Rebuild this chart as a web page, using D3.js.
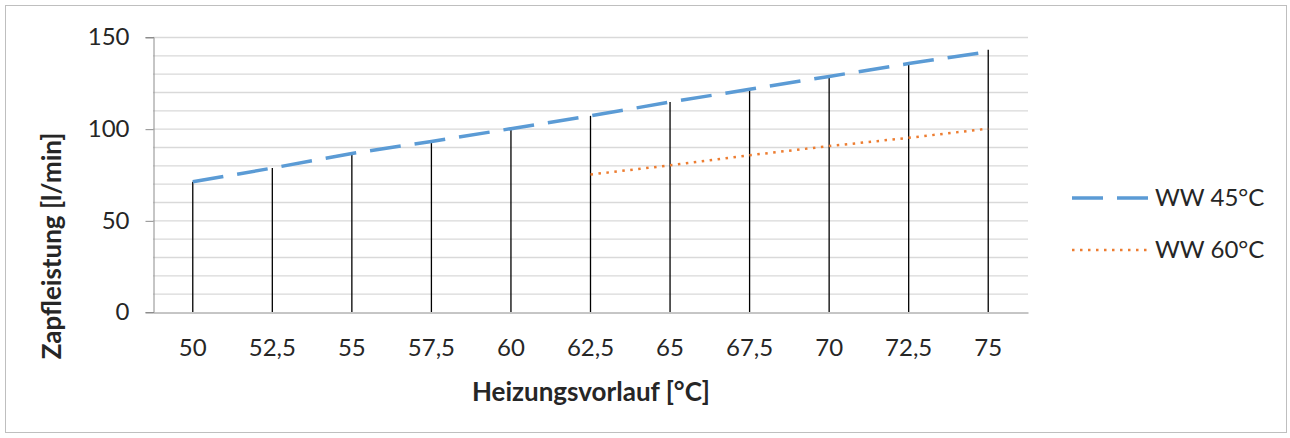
<!DOCTYPE html>
<html>
<head>
<meta charset="utf-8">
<script src="https://cdn.jsdelivr.net/npm/d3@7"></script>
<style>
  body { margin: 0; background: #fff; }
  text { font-family: Lato, "Open Sans", sans-serif; fill: #262626; }
</style>
</head>
<body>
<svg id="body" width="1290" height="438"></svg>
<script>
// chart data
let categories = ["50", "52,5", "55", "57,5", "60", "62,5", "65", "67,5", "70", "72,5", "75"];
let ww45 = [71, 78.5, 86.5, 93, 100, 107, 114.5, 121.5, 128.5, 135.5, 142];
let ww60 = [null, null, null, null, null, 75, 80, 85.5, 90.5, 95, 100];
let yTicks = [0, 50, 100, 150];

let svg = d3.select("#body");

// outer frame
svg.append("rect")
   .attr("x", 5.5).attr("y", 5.5)
   .attr("width", 1281).attr("height", 427)
   .attr("fill", "none").attr("stroke", "#bfbfbf");

let plotLeft = 153, plotRight = 1028, plotTop = 37, plotBottom = 312;

let x = d3.scaleBand().domain(categories).range([plotLeft, plotRight]);
let y = d3.scaleLinear().domain([0, 150]).range([plotBottom, plotTop]);

// grid: minor lines every 10
svg.append("g")
   .attr("class", "grid")
   .selectAll("line")
   .data(d3.range(10, 151, 10))
   .enter()
   .append("line")
     .attr("x1", plotLeft).attr("x2", plotRight)
     .attr("y1", d => y(d) + 0.5).attr("y2", d => y(d) + 0.5)
     .attr("stroke", "#d9d9d9").attr("stroke-width", 1.3);

// axes
let yAxis = svg.append("g")
   .attr("transform", `translate(${plotLeft + 0.5},0)`)
   .call(d3.axisLeft(y).tickValues(yTicks).tickSize(8).tickPadding(16));
yAxis.select(".domain").attr("stroke", "#8c8c8c");
yAxis.selectAll(".tick line").attr("stroke", "#8c8c8c").attr("transform", "translate(0,0.5)");
yAxis.selectAll(".tick text").attr("font-size", 24).attr("font-family", "Lato").attr("fill", "#262626");

let xAxis = svg.append("g")
   .attr("transform", `translate(0,${plotBottom + 0.5})`)
   .call(d3.axisBottom(x).tickSize(0).tickPadding(26));
xAxis.select(".domain").attr("stroke", "#8c8c8c");
xAxis.selectAll(".tick text").attr("font-size", 24).attr("font-family", "Lato").attr("fill", "#262626");

// drop lines from highest point down to the axis
let cx = d => x(d) + x.bandwidth() / 2;
svg.append("g")
   .attr("class", "drops")
   .selectAll("line")
   .data(categories)
   .enter()
   .append("line")
     .attr("x1", d => cx(d)).attr("x2", d => cx(d))
     .attr("y1", (d, i) => y(Math.max(ww45[i], ww60[i] || 0)) - (i == 10 ? 2 : 0))
     .attr("y2", plotBottom)
     .attr("stroke", "#000").attr("stroke-width", 1.3);

// series lines
let line = d3.line()
   .defined(d => d.v != null)
   .x(d => cx(d.c))
   .y(d => y(d.v));

svg.append("path")
   .datum(categories.map((c, i) => ({c: c, v: ww45[i]})))
   .attr("d", line)
   .attr("fill", "none")
   .attr("stroke", "#5b9bd5")
   .attr("stroke-width", 3.5)
   .attr("stroke-dasharray", "31 14");

svg.append("path")
   .datum(categories.map((c, i) => ({c: c, v: ww60[i]})))
   .attr("d", line)
   .attr("fill", "none")
   .attr("stroke", "#ed7d31")
   .attr("stroke-width", 2.5)
   .attr("stroke-dasharray", "2.5 5.5");

// axis titles
svg.append("text")
   .attr("x", 591).attr("y", 401)
   .attr("text-anchor", "middle")
   .attr("font-size", 26).attr("font-weight", "bold")
   .text("Heizungsvorlauf  [°C]");

svg.append("text")
   .attr("transform", "translate(61,246) rotate(-90)")
   .attr("text-anchor", "middle")
   .attr("font-size", 26).attr("font-weight", "bold")
   .text("Zapfleistung [l/min]");

// legend
let legend = [
  {name: "WW 45°C", color: "#5b9bd5", width: 3.5, dash: "31 14", y: 198},
  {name: "WW 60°C", color: "#ed7d31", width: 2.5, dash: "2.5 5.5", y: 250}
];
let lg = svg.append("g").selectAll("g").data(legend).enter().append("g");
lg.append("line")
  .attr("x1", 1072).attr("x2", 1148)
  .attr("y1", d => d.y).attr("y2", d => d.y)
  .attr("stroke", d => d.color)
  .attr("stroke-width", d => d.width)
  .attr("stroke-dasharray", d => d.dash);
lg.append("text")
  .attr("x", 1155).attr("y", d => d.y + 8)
  .attr("font-size", 24)
  .text(d => d.name);
</script>
</body>
</html>
